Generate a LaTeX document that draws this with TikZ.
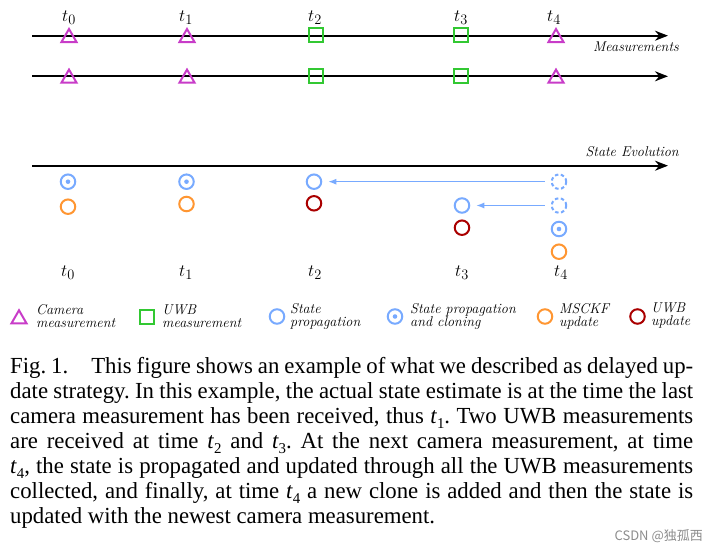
\documentclass[tikz,border=0pt]{standalone}
\usepackage{fontspec}
\usetikzlibrary{shapes.geometric,arrows.meta}
\newfontfamily\capfont[FakeStretch=0.99]{Liberation Serif}
\newfontfamily\cjkfont{Noto Sans CJK SC}
\definecolor{camc}{RGB}{200,60,200}
\definecolor{uwbc}{RGB}{50,200,50}
\definecolor{stc}{RGB}{120,170,255}
\definecolor{mscc}{RGB}{255,150,50}
\definecolor{uupc}{RGB}{170,0,0}
\newcommand\capt[1]{{\itshape t}\kern0.3pt\raisebox{-0.22em}{\fontsize{15}{15}\selectfont #1}}
\tikzset{
 ax/.style={line width=1.8pt, -{Stealth[length=13pt,width=10pt]}},
 camm/.style={regular polygon, regular polygon sides=3, draw=camc, line width=2pt, minimum size=17.4pt, inner sep=0pt},
 uwbm/.style={rectangle, draw=uwbc, line width=2pt, minimum size=14pt, inner sep=0pt},
 st/.style={circle, draw=stc, line width=2pt, minimum size=14.5pt, inner sep=0pt},
 stclone/.style={st, path picture={\fill[stc] (path picture bounding box.center) circle (2.3pt);}},
 stghost/.style={st, dash pattern=on 3.5pt off 2.5pt},
 msc/.style={circle, draw=mscc, line width=2pt, minimum size=14.5pt, inner sep=0pt},
 uup/.style={circle, draw=uupc, line width=2pt, minimum size=14.5pt, inner sep=0pt},
 tl/.style={font=\fontsize{19}{22}\selectfont, inner sep=0pt},
 lbl/.style={font=\fontsize{14.2}{13}\selectfont\itshape, align=left, inner sep=0pt},
 back/.style={draw=stc, line width=1.3pt, -{Latex[length=8pt,width=6pt]}, shorten >=6pt, shorten <=6pt}
}
\begin{document}
\begin{tikzpicture}[x=1pt,y=-1pt]
\useasboundingbox (0,0) rectangle (716,551);
% measurement axes
\coordinate (m1s) at (32,35.7); \coordinate (m1e) at (668,35.7);
\coordinate (m2s) at (32,76.3); \coordinate (m2e) at (668,76.3);
\draw[ax] (m1s) -- (m1e);
\draw[ax] (m2s) -- (m2e);
\node[tl] (ta0) at (69,18) {$t_0$};
\node[tl] (ta1) at (186,18) {$t_1$};
\node[tl] (ta2) at (315,18) {$t_2$};
\node[tl] (ta3) at (461,18) {$t_3$};
\node[tl] (ta4) at (554,18) {$t_4$};
\node[camm] (a0) at (69,37.7) {};
\node[camm] (a1) at (187,37.7) {};
\node[uwbm] (a2) at (316,35) {};
\node[uwbm] (a3) at (461,35) {};
\node[camm] (a4) at (556,37.7) {};
\node[camm] (b0) at (69,78.3) {};
\node[camm] (b1) at (187,78.3) {};
\node[uwbm] (b2) at (316,76) {};
\node[uwbm] (b3) at (461,76) {};
\node[camm] (b4) at (556,78.3) {};
\node[lbl, anchor=east] (mlab) at (679,47) {Measurements};
% state evolution
\coordinate (ss) at (32,165.7); \coordinate (se) at (668,165.7);
\draw[ax] (ss) -- (se);
\node[lbl, anchor=east] (slab) at (679,152) {State Evolution};
\node[stclone] (c0) at (68,181.7) {};
\node[msc] (o0) at (68,206.7) {};
\node[stclone] (c1) at (186.5,181.7) {};
\node[msc] (o1) at (186.5,204) {};
\node[st] (p2) at (314,181.7) {};
\node[uup] (u2) at (314,203.3) {};
\node[st] (p3) at (462,205.5) {};
\node[uup] (u3) at (462,227.7) {};
\node[stghost] (g1) at (559,181.7) {};
\node[stghost] (g2) at (559,205.5) {};
\node[stclone] (c4) at (559,229) {};
\node[msc] (o4) at (559,251.7) {};
\draw[back] (g1) -- (p2);
\draw[back] (g2) -- (p3);
\node[tl] (tb0) at (68,273) {$t_0$};
\node[tl] (tb1) at (186,273) {$t_1$};
\node[tl] (tb2) at (315,273) {$t_2$};
\node[tl] (tb3) at (462,273) {$t_3$};
\node[tl] (tb4) at (561,273) {$t_4$};
% legend
\node[camm] (l1) at (19,319) {};
\node[lbl, anchor=west] (lt1) at (36,316) {Camera\\measurement};
\node[uwbm] (l2) at (147,316.5) {};
\node[lbl, anchor=west] (lt2) at (162,316) {UWB\\measurement};
\node[st] (l3) at (277,316.5) {};
\node[lbl, anchor=west] (lt3) at (290,316) {State\\propagation};
\node[stclone] (l4) at (395,316.5) {};
\node[lbl, anchor=west] (lt4) at (410,316) {State propagation\\and cloning};
\node[msc] (l5) at (545,316.5) {};
\node[lbl, anchor=west] (lt5) at (559,316) {MSCKF\\update};
\node[uup] (l6) at (637.5,316.5) {};
\node[lbl, anchor=west] (lt6) at (651,316) {UWB\\update};
% caption
\node[anchor=north west, inner sep=0pt, text width=683pt, align=justify,
      font=\capfont\fontsize{23}{25}\selectfont] (cap) at (10,357)
{\hyphenpenalty=10000\frenchspacing\noindent Fig. 1.\quad This figure shows an example of what we described as delayed up-\linebreak
date strategy. In this example, the actual state estimate is at the time the last\linebreak
camera measurement has been received, thus \capt{1}. Two UWB measurements\linebreak
are received at time \capt{2} and \capt{3}. At the next camera measurement, at time\linebreak
\capt{4}, the state is propagated and updated through all the UWB measurements\linebreak
collected, and finally, at time \capt{4} a new clone is added and then the state is\linebreak
updated with the newest camera measurement.};
\node[anchor=east, inner sep=0pt, font=\cjkfont\fontsize{13}{13}\selectfont, text=black!45] (wm) at (703,536) {CSDN @独孤西};
\end{tikzpicture}
\end{document}
